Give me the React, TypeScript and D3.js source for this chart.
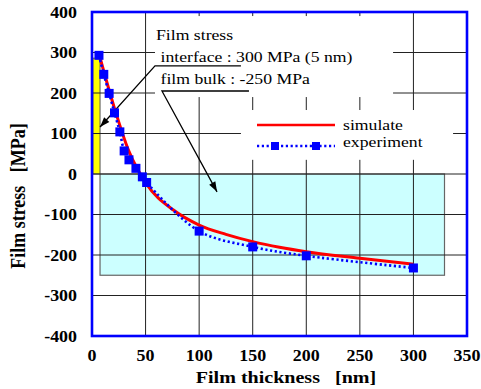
import * as d3 from "d3";

// experiment (blue squares)
const expThickness = [6.5, 11, 16, 21, 26, 30, 34.5, 41, 47, 51, 100, 150, 200, 300];
const expStress = [293, 246, 199, 151, 104, 57, 35, 14, -7, -21, -141, -180, -202, -232];
// simulate (red line)
const simThickness = [7, 21, 34, 51, 76, 100, 125, 150, 175, 200, 250, 300];
const simStress = [292, 162, 59, -25, -89, -126, -149, -167, -181, -192, -208, -223];

const xTicks = [0, 50, 100, 150, 200, 250, 300, 350];
const yTicks = [400, 300, 200, 100, 0, -100, -200, -300, -400];

// shaded bands: [x0, x1, yTop, yBottom] in data units
const interfaceBand = [0.8, 7.5, 286, 0];
const bulkBand = [7.5, 329, 0, -250];

const W = 481;
const H = 389;
const FONT = "Liberation Serif";
const GAP = "\u00a0\u00a0\u00a0";

function T({ x, y, size, sx = 1.18, bold = false, anchor = "start", rot = false, children }: any) {
  const tf = rot
    ? `translate(${x},${y}) rotate(-90) scale(1,${sx})`
    : `translate(${x},${y}) scale(${sx},1)`;
  return (
    <text
      transform={tf}
      textAnchor={anchor}
      fontFamily={FONT}
      fontSize={size}
      fontWeight={bold ? "bold" : "normal"}
      fill="#000"
    >
      {children}
    </text>
  );
}

export default function App() {
  const x = d3.scaleLinear([0, 350], [92, 467]);
  const y = d3.scaleLinear([-400, 400], [336, 12]);

  const simLine = d3
    .line<number>((d) => x(d), (_, i) => y(simStress[i]))
    .curve(d3.curveMonotoneX);
  const expLine = d3
    .line<number>((d) => x(d), (_, i) => y(expStress[i]))
    .curve(d3.curveCatmullRom.alpha(0.5));

  const arrowHead = (x1: number, y1: number, x2: number, y2: number) => {
    const a = Math.atan2(y2 - y1, x2 - x1);
    const l = 10, w = 3.5;
    const bx = x2 - l * Math.cos(a), by = y2 - l * Math.sin(a);
    return `M${x2},${y2}L${bx - w * Math.sin(a)},${by + w * Math.cos(a)}L${bx + w * Math.sin(a)},${by - w * Math.cos(a)}Z`;
  };

  // annotation anchors in data units
  const a1 = { ux0: 58.8, ux1: 139, uy: 267, tx: 7.5, ty: 116 };
  const a2 = { ux0: 65.3, ux1: 146.5, uy: 205, tx: 116.7, ty: -44 };

  return (
    <svg width={W} height={H} style={{ position: "absolute", left: 0, top: 0, background: "#fff" }}>
      <rect x={0} y={0} width={W} height={H} fill="#fff" />
      {/* bands */}
      <rect
        x={x(bulkBand[0])}
        y={y(bulkBand[2])}
        width={x(bulkBand[1]) - x(bulkBand[0])}
        height={y(bulkBand[3]) - y(bulkBand[2])}
        fill="#ccffff"
        stroke="#666"
        strokeWidth={1.2}
      />
      <rect
        x={x(interfaceBand[0])}
        y={y(interfaceBand[2])}
        width={x(interfaceBand[1]) - x(interfaceBand[0])}
        height={y(interfaceBand[3]) - y(interfaceBand[2])}
        fill="#ffff00"
        stroke="#555"
        strokeWidth={1}
      />
      {/* grid */}
      <g stroke="#222" strokeWidth={1}>
        {xTicks.slice(1, -1).map((t) => (
          <line key={"gx" + t} x1={x(t)} x2={x(t)} y1={y(400)} y2={y(-400)} />
        ))}
        {yTicks.slice(1, -1).map((t) => (
          <line key={"gy" + t} x1={x(0)} x2={x(350)} y1={y(t)} y2={y(t)} />
        ))}
      </g>
      {/* text box and legend box */}
      <rect x={x(58.8)} y={y(390)} width={x(281) - x(58.8)} height={y(190) - y(390)} fill="#fff" />
      <rect x={x(139)} y={y(158)} width={x(337) - x(139)} height={y(35) - y(158)} fill="#fff" />

      {/* annotation */}
      <T x={156} y={39.5} size={15}>Film stress</T>
      <T x={160.5} y={62} size={15}>interface : 300 MPa (5 nm)</T>
      <T x={160.5} y={83.5} size={15}>film bulk : -250 MPa</T>
      <g stroke="#000" strokeWidth={1.3} fill="none">
        <polyline points={`${x(a1.ux1)},${y(a1.uy)} ${x(a1.ux0)},${y(a1.uy)} ${x(a1.tx)},${y(a1.ty)}`} />
        <polyline points={`${x(a2.ux1)},${y(a2.uy)} ${x(a2.ux0)},${y(a2.uy)} ${x(a2.tx)},${y(a2.ty)}`} />
      </g>
      <path d={arrowHead(x(a1.ux0), y(a1.uy), x(a1.tx), y(a1.ty))} fill="#000" />
      <path d={arrowHead(x(a2.ux0), y(a2.uy), x(a2.tx), y(a2.ty))} fill="#000" />

      {/* series */}
      <path d={simLine(simThickness) ?? ""} fill="none" stroke="#ff0000" strokeWidth={3} />
      <path
        d={expLine(expThickness) ?? ""}
        fill="none"
        stroke="#0000ff"
        strokeWidth={2.6}
        strokeDasharray="2.2 2.6"
      />
      {expThickness.map((t, i) => (
        <rect key={i} x={x(t) - 4.5} y={y(expStress[i]) - 4.5} width={9} height={9} fill="#0000ff" />
      ))}

      {/* legend */}
      <line x1={257} x2={335} y1={125} y2={125} stroke="#ff0000" strokeWidth={2.6} />
      <line x1={257} x2={335} y1={146} y2={146} stroke="#0000ff" strokeWidth={2.6} strokeDasharray="2.2 2.6" />
      <rect x={271} y={142} width={8} height={8} fill="#0000ff" />
      <rect x={312} y={142} width={8} height={8} fill="#0000ff" />
      <T x={343} y={129.5} size={15}>simulate</T>
      <T x={343} y={147} size={15}>experiment</T>

      {/* border */}
      <rect x={x(0)} y={y(400)} width={x(350) - x(0)} height={y(-400) - y(400)} fill="none" stroke="#0000ff" strokeWidth={2.6} />

      {/* tick labels */}
      {yTicks.map((t) => (
        <T key={"yl" + t} x={77} y={y(t) + 5.5} size={16} sx={1.12} bold anchor="end">
          {String(t)}
        </T>
      ))}
      {xTicks.map((t) => (
        <T key={"xl" + t} x={x(t)} y={360.5} size={16} sx={1.12} bold anchor="middle">
          {String(t)}
        </T>
      ))}
      <T x={286} y={383} size={17} bold anchor="middle">{"Film thickness" + GAP + "[nm]"}</T>
      <T x={25} y={196} size={18} bold anchor="middle" rot>{"Film stress" + GAP + "[MPa]"}</T>
    </svg>
  );
}
